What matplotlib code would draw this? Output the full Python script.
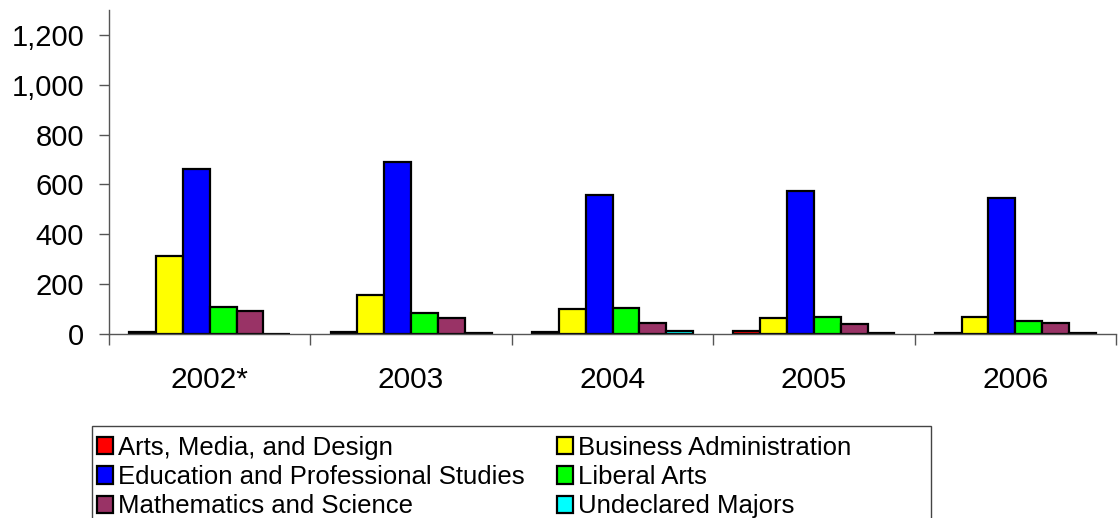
import numpy as np
import matplotlib
matplotlib.use("Agg")
import matplotlib.pyplot as plt
from matplotlib.patches import Rectangle
from matplotlib.ticker import FuncFormatter

plt.rcParams['font.family'] = ['Liberation Sans', 'DejaVu Sans']

years = ['2002*', '2003', '2004', '2005', '2006']
series = ['Arts, Media, and Design', 'Business Administration',
          'Education and Professional Studies', 'Liberal Arts',
          'Mathematics and Science', 'Undeclared Majors']
arts = [9, 9, 9, 13, 4]
business = [313, 156, 99, 65, 69]
education = [663, 689, 559, 572, 545]
liberal = [109, 83, 105, 69, 52]
math_sci = [93, 65, 43, 41, 43]
undeclared = [0, 4, 13, 4, 3]
values = [arts, business, education, liberal, math_sci, undeclared]
colors = ['#FF0000', '#FFFF00', '#0000FF', '#00FF00', '#993366', '#00FFFF']

W, H = 1118, 518
fig = plt.figure(figsize=(W / 100, H / 100), dpi=100)
ax = fig.add_axes([109 / W, 1 - 334 / H, (1116 - 109) / W, (334 - 10) / H])

x = np.arange(len(years))
width = 0.8 / len(series)
handles = []
for j, (vals, c) in enumerate(zip(values, colors)):
    b = ax.bar(x + (j - 2.5) * width, vals, width, color=c, edgecolor='black',
               linewidth=1.6, label=series[j])
    handles.append(b)

ax.set_xlim(-0.5, len(years) - 0.5)
ax.set_ylim(0, 1300)
ax.set_yticks(np.arange(0, 1201, 200))
ax.yaxis.set_major_formatter(FuncFormatter(lambda v, p: '{:,}'.format(int(v))))
ax.tick_params(axis='y', labelsize=21, length=7, width=1, color='#555555', pad=11)

ax.set_xticks(np.arange(-0.5, len(years), 1))
ax.set_xticklabels([])
ax.set_xticks(x, minor=True)
ax.set_xticklabels(years, minor=True)
ax.tick_params(axis='x', which='major', length=8, width=1, color='#555555')
ax.tick_params(axis='x', which='minor', length=0, labelsize=21.5, pad=23)

for s in ['top', 'right']:
    ax.spines[s].set_visible(False)
for s in ['left', 'bottom']:
    ax.spines[s].set_color('#555555')
    ax.spines[s].set_linewidth(1)

# legend frame drawn by hand (wider than the entries)
fig.patches.append(Rectangle((92 / W, -0.05), (931 - 92) / W, 1 - 426 / H + 0.05,
                             transform=fig.transFigure, fill=False,
                             edgecolor='#444444', linewidth=1))
order = [0, 2, 4, 1, 3, 5]
fig.legend([handles[i] for i in order], [series[i] for i in order],
           ncol=2, loc='upper left', bbox_to_anchor=(94 / W, 1 - 433 / H),
           frameon=False, fontsize=18.5, handlelength=0.65, handleheight=0.65,
           handletextpad=0.2, labelspacing=0.21, columnspacing=1.23,
           borderpad=0.1, borderaxespad=0)

fig.savefig('out.png', dpi=100)
